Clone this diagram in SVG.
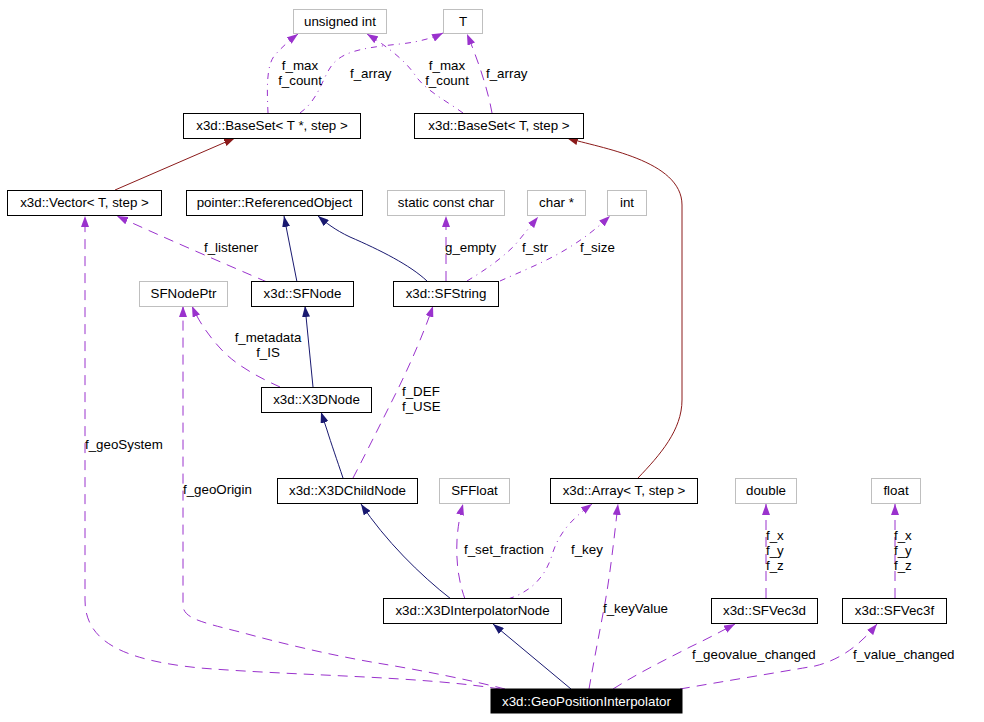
<svg xmlns="http://www.w3.org/2000/svg" width="984" height="722" viewBox="0 0 984 722">
<style>
text{font-family:"Liberation Sans",Arial,sans-serif;font-size:13.33px;fill:#000}
.n rect{fill:#fff;stroke:#000;stroke-width:1}
.g rect{fill:#fff;stroke:#bfbfbf;stroke-width:1}
.n text,.g text{text-anchor:middle}
.h rect{fill:#000;stroke:#000}
.h text{fill:#fff;text-anchor:middle}
.e{fill:none;stroke-width:1}
.nv{stroke:#191970;marker-end:url(#an)}
.rd{stroke:#8b1a1a;marker-end:url(#ar)}
.pu{stroke:#9a32cd;stroke-dasharray:10,7;marker-end:url(#ap)}
.pd{stroke:#9a32cd;stroke-dasharray:6,5,1,5;marker-end:url(#ap)}
</style>
<defs>
<marker id="an" viewBox="0 0 11 8" refX="11" refY="4" markerWidth="11" markerHeight="8" markerUnits="userSpaceOnUse" orient="auto"><path d="M0,0L11,4L0,8z" fill="#191970"/></marker>
<marker id="ar" viewBox="0 0 11 8" refX="11" refY="4" markerWidth="11" markerHeight="8" markerUnits="userSpaceOnUse" orient="auto"><path d="M0,0L11,4L0,8z" fill="#8b1a1a"/></marker>
<marker id="ap" viewBox="0 0 11 8" refX="11" refY="4" markerWidth="11" markerHeight="8" markerUnits="userSpaceOnUse" orient="auto"><path d="M0,0L11,4L0,8z" fill="#9a32cd"/></marker>
</defs>
<rect width="984" height="722" fill="#fff"/>
<g id="connectors">
<path class="e rd" d="M115,190L235,138"/>
<path class="e rd" d="M638,478C660,455 682,430 682,400L682,205C682,160 600,148 567,138"/>
<path class="e nv" d="M297,282L284,216"/>
<path class="e nv" d="M427,281C410,265 380,250 350,237C335,230 325,222 318,216"/>
<path class="e nv" d="M313,387L305,306"/>
<path class="e nv" d="M343,478C337,460 331,443 327,430L321,412"/>
<path class="e nv" d="M451,599C420,575 385,540 361,504"/>
<path class="e nv" d="M571,689L493,624"/>
<path class="e pd" d="M268,113C267,90 266,65 275,55C282,47 290,40 298,34"/>
<path class="e pd" d="M300,113C318,100 322,80 330,68C340,52 360,48 400,44C420,42 435,37 443,33"/>
<path class="e pd" d="M463,113C445,100 425,90 415,75C405,60 385,45 367,34"/>
<path class="e pu" d="M492,113C488,90 478,60 467,34"/>
<path class="e pu" d="M267,282C230,266 160,236 117,216"/>
<path class="e pu" d="M446,281L446,216"/>
<path class="e pd" d="M467,281C485,270 500,260 515,245L538,217"/>
<path class="e pd" d="M500,281C520,272 545,262 565,250C585,238 597,228 610,216"/>
<path class="e pu" d="M280,387C260,378 235,365 220,348C208,335 198,320 192,306"/>
<path class="e pu" d="M353,478C365,455 380,425 395,395C410,365 425,330 433,306"/>
<path class="e pu" d="M500,689C420,676 300,676 200,668C120,660 85,640 85,600L85,216"/>
<path class="e pu" d="M505,689C470,680 420,670 377,663C330,655 280,643 240,632C200,622 183,618 183,605L183,306"/>
<path class="e pu" d="M465,599C458,580 456,560 457,540C458,525 460,515 463,504"/>
<path class="e pd" d="M508,599C530,592 545,578 552,555C558,535 570,520 592,504"/>
<path class="e pu" d="M589,689C594,660 600,630 605,603C610,575 614,540 618,504"/>
<path class="e pu" d="M766,598L766,504"/>
<path class="e pu" d="M895,598L895,504"/>
<path class="e pu" d="M613,689C640,672 665,660 690,647C705,640 720,632 735,624"/>
<path class="e pu" d="M680,689C720,682 780,672 815,666C840,660 860,645 877,624"/>
</g>
<g id="edge-labels">
<text x="300" y="70" text-anchor="middle">f_max</text>
<text x="300" y="85" text-anchor="middle">f_count</text>
<text x="350" y="78">f_array</text>
<text x="447" y="70" text-anchor="middle">f_max</text>
<text x="447" y="85" text-anchor="middle">f_count</text>
<text x="486" y="78">f_array</text>
<text x="204" y="252">f_listener</text>
<text x="445" y="252">g_empty</text>
<text x="522" y="252">f_str</text>
<text x="580" y="252">f_size</text>
<text x="268" y="342" text-anchor="middle">f_metadata</text>
<text x="268" y="357" text-anchor="middle">f_IS</text>
<text x="402" y="396">f_DEF</text>
<text x="402" y="411">f_USE</text>
<text x="85" y="449">f_geoSystem</text>
<text x="183" y="494">f_geoOrigin</text>
<text x="464" y="554">f_set_fraction</text>
<text x="571" y="554">f_key</text>
<text x="603" y="613">f_keyValue</text>
<text x="766" y="540">f_x</text>
<text x="766" y="555">f_y</text>
<text x="766" y="570">f_z</text>
<text x="894" y="540">f_x</text>
<text x="894" y="555">f_y</text>
<text x="894" y="570">f_z</text>
<text x="692" y="659">f_geovalue_changed</text>
<text x="853" y="659">f_value_changed</text>
</g>
<g id="unsigned_int" class="g"><rect x="293.5" y="9.5" width="93" height="24"/><text x="340" y="26">unsigned int</text></g>
<g id="T" class="g"><rect x="443.5" y="9.5" width="39" height="24"/><text x="463" y="26">T</text></g>
<g id="BaseSet_Tptr" class="n"><rect x="183.5" y="113.5" width="177" height="25"/><text x="272" y="130">x3d::BaseSet&lt; T *, step &gt;</text></g>
<g id="BaseSet_T" class="n"><rect x="414.5" y="113.5" width="169" height="25"/><text x="499" y="130">x3d::BaseSet&lt; T, step &gt;</text></g>
<g id="Vector" class="n"><rect x="7.5" y="190.5" width="154" height="25"/><text x="84.5" y="207">x3d::Vector&lt; T, step &gt;</text></g>
<g id="ReferencedObject" class="n"><rect x="186.5" y="190.5" width="176" height="25"/><text x="274.5" y="207">pointer::ReferencedObject</text></g>
<g id="static_const_char" class="g"><rect x="387.5" y="190.5" width="117" height="25"/><text x="446" y="207">static const char</text></g>
<g id="char_ptr" class="g"><rect x="527.5" y="190.5" width="58" height="25"/><text x="556.5" y="207">char *</text></g>
<g id="int" class="g"><rect x="607.5" y="190.5" width="39" height="25"/><text x="627" y="207">int</text></g>
<g id="SFNodePtr" class="g"><rect x="139.5" y="281.5" width="88" height="25"/><text x="183.5" y="298">SFNodePtr</text></g>
<g id="SFNode" class="n"><rect x="251.5" y="281.5" width="102" height="25"/><text x="302.5" y="298">x3d::SFNode</text></g>
<g id="SFString" class="n"><rect x="393.5" y="281.5" width="105" height="25"/><text x="446" y="298">x3d::SFString</text></g>
<g id="X3DNode" class="n"><rect x="261.5" y="387.5" width="110" height="25"/><text x="316.5" y="404">x3d::X3DNode</text></g>
<g id="X3DChildNode" class="n"><rect x="277.5" y="478.5" width="140" height="25"/><text x="347.5" y="495">x3d::X3DChildNode</text></g>
<g id="SFFloat" class="g"><rect x="439.5" y="478.5" width="70" height="25"/><text x="474.5" y="495">SFFloat</text></g>
<g id="Array" class="n"><rect x="550.5" y="478.5" width="147" height="25"/><text x="624" y="495">x3d::Array&lt; T, step &gt;</text></g>
<g id="double" class="g"><rect x="735.5" y="478.5" width="61" height="25"/><text x="766" y="495">double</text></g>
<g id="float" class="g"><rect x="871.5" y="478.5" width="49" height="25"/><text x="896" y="495">float</text></g>
<g id="X3DInterpolatorNode" class="n"><rect x="383.5" y="598.5" width="178" height="25"/><text x="472.5" y="615">x3d::X3DInterpolatorNode</text></g>
<g id="SFVec3d" class="n"><rect x="711.5" y="598.5" width="106" height="25"/><text x="764.5" y="615">x3d::SFVec3d</text></g>
<g id="SFVec3f" class="n"><rect x="842.5" y="598.5" width="104" height="25"/><text x="894.5" y="615">x3d::SFVec3f</text></g>
<g id="GeoPositionInterpolator" class="h"><rect x="491" y="689" width="191" height="24"/><text x="586.5" y="706">x3d::GeoPositionInterpolator</text></g>
</svg>
